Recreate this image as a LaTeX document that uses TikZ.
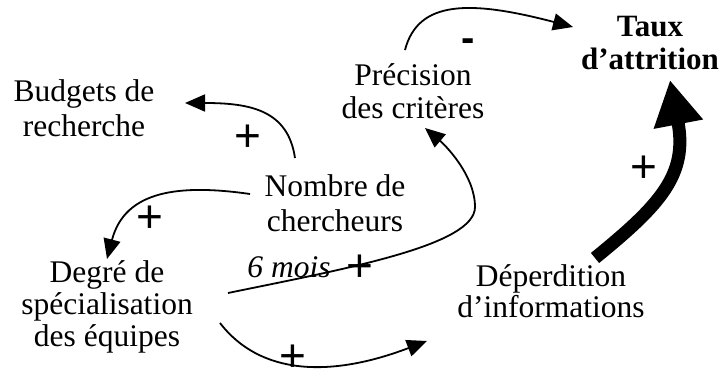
\documentclass[tikz,border=0pt]{standalone}
\usepackage{fontspec}
\setmainfont{Liberation Serif}
\newfontfamily\signfont{Liberation Sans}
\usetikzlibrary{arrows.meta,calc}
\tikzset{
  var/.style={align=center,anchor=base,inner sep=0pt,font=\fontsize{31.5}{35}\selectfont},
  sign/.style={inner sep=0pt,font=\signfont\fontsize{46}{46}\selectfont},
  link/.style={line width=1.8pt,-{Triangle[length=20pt,width=17pt]}},
  biglink/.style={line width=13pt,-{Triangle[length=45pt,width=47pt]}}
}
\begin{document}
\begin{tikzpicture}[x=1pt,y=-1pt]
\useasboundingbox (0,0) rectangle (724,374);
\node[var] (budgets) at (84,137) {Budgets de\\recherche};
\node[var] (nombre) at (335,232) {Nombre de\\chercheurs};
\node[var,font=\fontsize{31.5}{32}\selectfont] (degre) at (107,347) {Degré de\\spécialisation\\des équipes};
\node[var,font=\fontsize{31.5}{33}\selectfont] (precision) at (413,119) {Précision\\des critères};
\node[var,font=\bfseries\fontsize{31}{33}\selectfont] (taux) at (650,70) {Taux\\d’attrition};
\node[var,font=\fontsize{31.5}{31}\selectfont] (deperd) at (551,318) {Déperdition\\d’informations};
\node[var,font=\itshape\fontsize{31.5}{34}\selectfont] (mois) at (289,278) {6 mois};
\node[sign] (p1) at (248,138) {+};
\node[sign] (p2) at (150,219) {+};
\node[sign] (p3) at (360,268) {+};
\node[sign] (p4) at (293,358) {+};
\node[sign] (p5) at (644,169) {+};
\node[sign,font=\signfont\bfseries\fontsize{40}{40}\selectfont] (m1) at (468,45) {-};
\draw[link] ([shift={(-40,-74)}]nombre.base) .. controls (288,110) and (250,103) .. ([shift={(101,-34)}]budgets.base);
\draw[link] ([shift={(-85,-38)}]nombre.base) .. controls (180,184) and (125,190) .. ([shift={(0,-88)}]degre.base);
\draw[link] ([shift={(121,-54)}]degre.base) .. controls (350,268) and (475,245) .. (475,207) .. controls (475,175) and (445,145) .. ([shift={(12,9)}]precision.base);
\draw[link] ([shift={(113,-24)}]degre.base) .. controls (260,375) and (330,378) .. ([shift={(-124,23)}]deperd.base);
\draw[link] ([shift={(-8,-69)}]precision.base) .. controls (418,0) and (470,0) .. ([shift={(-77,-43)}]taux.base);
\draw[biglink] ([shift={(44,-60)}]deperd.base) .. controls (660,205) and (688,175) .. ([shift={(20,10)}]taux.base);
\end{tikzpicture}
\end{document}
